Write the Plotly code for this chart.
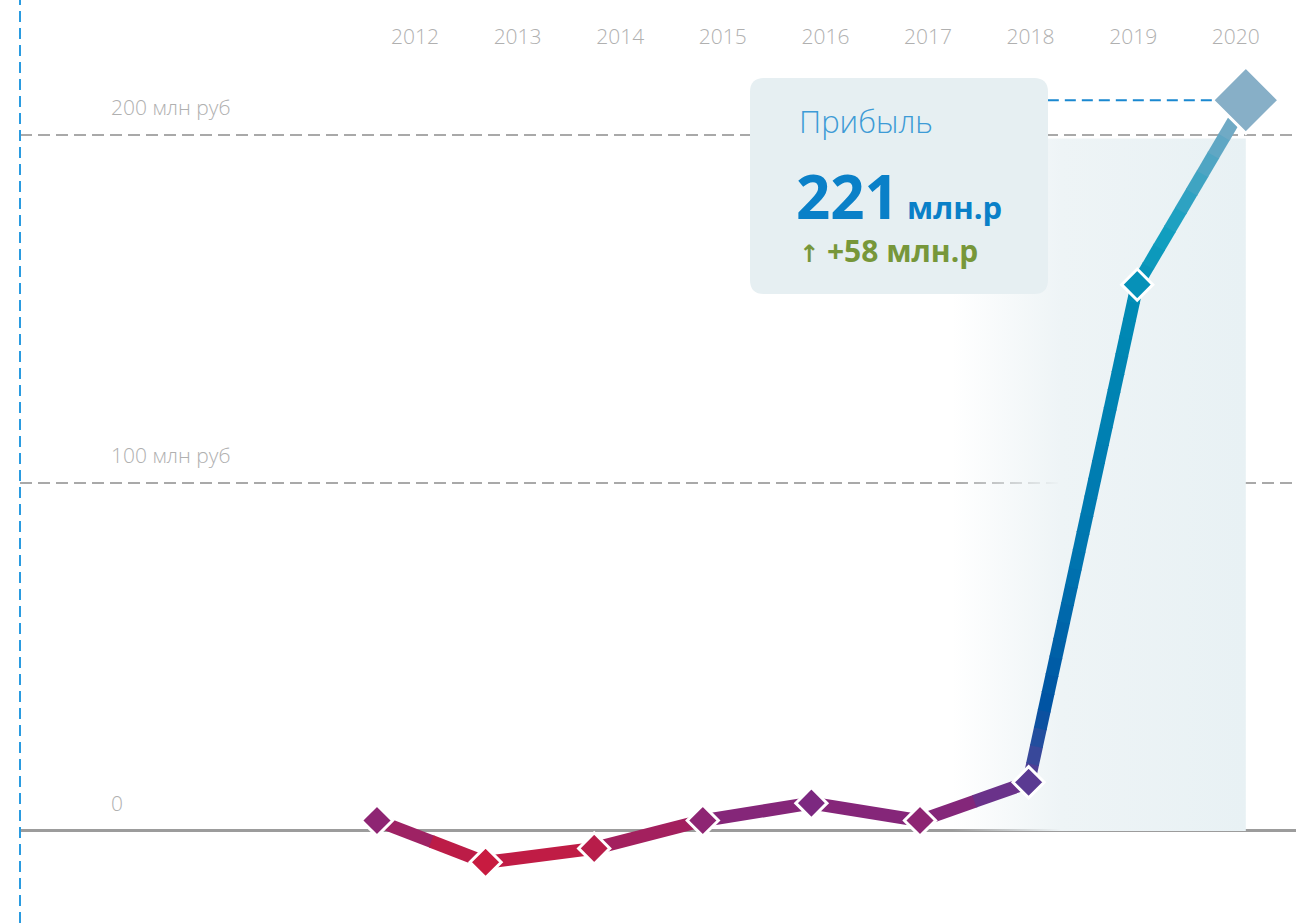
import numpy as np
import plotly.graph_objects as go

# ---------------- data ----------------
years = [2012, 2013, 2014, 2015, 2016, 2017, 2018, 2019, 2020]
profit = [3, -9, -5, 3, 8, 3, 14, 157, 210]          # млн руб
year_labels = [str(y) for y in years]
grid_values = [0, 100, 200]
grid_labels = ["0", "100 млн руб", "200 млн руб"]
tooltip_title = "Прибыль"
tooltip_value = "221"
tooltip_unit = "млн.р"
tooltip_delta = "+58 млн.р"

# ---------------- styles ----------------
CMIN, CMAX = -10, 215
stops = [(-10, "#cc1b3e"), (-4, "#b41d4c"), (2, "#922470"), (8, "#7c2880"),
         (14, "#5a3a92"), (24, "#2e4c9c"), (35, "#0052a2"), (80, "#0076b0"),
         (150, "#008ab4"), (172, "#12a0c0"), (195, "#5aa6c4"), (215, "#96b2c8")]
colorscale = [[(v - CMIN) / (CMAX - CMIN), c] for v, c in stops]


def hex2rgb(h):
    h = h.lstrip("#")
    return [int(h[i:i + 2], 16) for i in (0, 2, 4)]


def color_at(v):
    v = min(max(v, CMIN), CMAX)
    for (va, ca), (vb, cb) in zip(stops[:-1], stops[1:]):
        if va <= v <= vb:
            t = (v - va) / (vb - va) if vb > va else 0
            a, b = hex2rgb(ca), hex2rgb(cb)
            c = [round(a[k] + (b[k] - a[k]) * t) for k in range(3)]
            return f"rgb({c[0]},{c[1]},{c[2]})"
    return stops[-1][1]


LABEL_GRAY = "#b0b0b0"
FONT = "Open Sans"
PX_PER_YEAR = 108.6
PX_PER_UNIT = 3.48

fig = go.Figure()

# shaded band behind the last two years
shade_left = years[-3] - 0.7
fig.add_trace(go.Scatter(
    x=[shade_left, years[-1], years[-1], shade_left],
    y=[0, 0, 199, 199], mode="none", fill="toself",
    fillgradient=dict(type="horizontal",
                      colorscale=[[0, "rgba(238,244,246,0)"],
                                  [0.37, "rgba(238,244,246,1)"],
                                  [1, "rgba(232,241,244,1)"]]),
    hoverinfo="skip", showlegend=False))

# gradient line (each segment coloured by height)
for i in range(len(years) - 1):
    x0, x1 = years[i], years[i + 1]
    y0, y1 = profit[i], profit[i + 1]
    n = max(1, int(abs(y1 - y0) / 5))
    seg_px = np.hypot((x1 - x0) * PX_PER_YEAR, (y1 - y0) * PX_PER_UNIT)
    ov = 1.0 / seg_px
    ts = np.linspace(0, 1, n + 1)
    for a, b in zip(ts[:-1], ts[1:]):
        b2 = min(1.0, b + ov)
        ya, yb = y0 + (y1 - y0) * a, y0 + (y1 - y0) * b2
        fig.add_trace(go.Scatter(
            x=[x0 + (x1 - x0) * a, x0 + (x1 - x0) * b2], y=[ya, yb],
            mode="lines", line=dict(color=color_at((ya + yb) / 2), width=13),
            hoverinfo="skip", showlegend=False))

# markers
sizes = [24] * (len(years) - 1) + [51]
fig.add_trace(go.Scatter(
    x=years, y=profit, mode="markers",
    marker=dict(symbol="diamond", size=sizes, color=profit, opacity=1,
                colorscale=colorscale, cmin=CMIN, cmax=CMAX,
                line=dict(color="white", width=3)),
    showlegend=False, hoverinfo="skip"))

# invisible trace on the top year axis
fig.add_trace(go.Scatter(x=[years[0]], y=[None], xaxis="x2", showlegend=False,
                         hoverinfo="skip"))

shapes = [
    # left dashed blue line
    dict(type="line", xref="paper", yref="paper", x0=0, x1=0, y0=0, y1=1,
         line=dict(color="#2a9be0", width=2, dash="11px,6px")),
    # connector from tooltip to the last point
    dict(type="line", xref="x", yref="y", xsizemode="pixel", xanchor=years[-1],
         x0=-198, x1=-34, y0=profit[-1], y1=profit[-1],
         line=dict(color="#1a88d0", width=2, dash="11px,6px")),
]

# tooltip box (rounded rect in paper coords)
bx0, bx1 = (750 - 20) / 1276, (1048 - 20) / 1276
by0, by1 = (923 - 294) / 923, (923 - 78) / 923
rx, ry = 14 / 1276, 14 / 923
path = (f"M{bx0+rx},{by0} L{bx1-rx},{by0} Q{bx1},{by0} {bx1},{by0+ry} "
        f"L{bx1},{by1-ry} Q{bx1},{by1} {bx1-rx},{by1} L{bx0+rx},{by1} "
        f"Q{bx0},{by1} {bx0},{by1-ry} L{bx0},{by0+ry} Q{bx0},{by0} {bx0+rx},{by0} Z")
shapes.append(dict(type="path", xref="paper", yref="paper", path=path,
                   fillcolor="#e6eff2", line=dict(width=0), layer="above"))

tx = (797 - 20) / 1276
annotations = [
    dict(text=tooltip_title, x=tx, y=(923 - 121) / 923, xref="paper", yref="paper",
         xanchor="left", yanchor="middle", showarrow=False,
         font=dict(family=FONT, size=31, color="#3d9bd6", weight=300)),
    dict(text=f"{tooltip_value}<span style='font-size:31px'> {tooltip_unit}</span>",
         x=tx - 3 / 1276, y=(923 - 196) / 923, xref="paper", yref="paper",
         xanchor="left", yanchor="middle", showarrow=False,
         font=dict(family=FONT, size=60, color="#0a80c8", weight=700)),
    dict(text=f"<span style='font-size:24px;font-family:DejaVu Sans'>↑</span> {tooltip_delta}",
         x=tx, y=(923 - 250) / 923, xref="paper", yref="paper",
         xanchor="left", yanchor="middle", showarrow=False,
         font=dict(family=FONT, size=30, color="#77973a", weight=700)),
]

fig.update_layout(
    width=1296, height=923,
    margin=dict(l=20, r=0, t=0, b=0),
    paper_bgcolor="white", plot_bgcolor="white",
    font=dict(family=FONT, color=LABEL_GRAY),
    showlegend=False,
    xaxis=dict(range=[2008.713, 2020.462], showgrid=False, zeroline=False,
               showticklabels=False, showline=False, ticks=""),
    xaxis2=dict(overlaying="x", anchor="free", position=(923 - 48) / 923,
                side="top", range=[2008.150, 2020.587],
                tickvals=years, ticktext=year_labels, showgrid=False,
                zeroline=False, showline=False, ticks="",
                tickfont=dict(family=FONT, size=21, color=LABEL_GRAY, weight=300)),
    yaxis=dict(range=[-26.44, 238.79], tickvals=grid_values, ticktext=grid_labels,
               ticklabelposition="inside", ticklabelstandoff=88, ticklabelshift=-27,
               showgrid=True, gridcolor="#a9a9a9", griddash="12px,6px", gridwidth=1.5,
               zeroline=True, zerolinecolor="#9c9c9c", zerolinewidth=3,
               showline=False, ticks="",
               tickfont=dict(family=FONT, size=21, color=LABEL_GRAY, weight=300)),
    shapes=shapes, annotations=annotations,
)

fig.write_html("out.html", config={"displayModeBar": False},
               post_script="document.body.style.margin='0';")
